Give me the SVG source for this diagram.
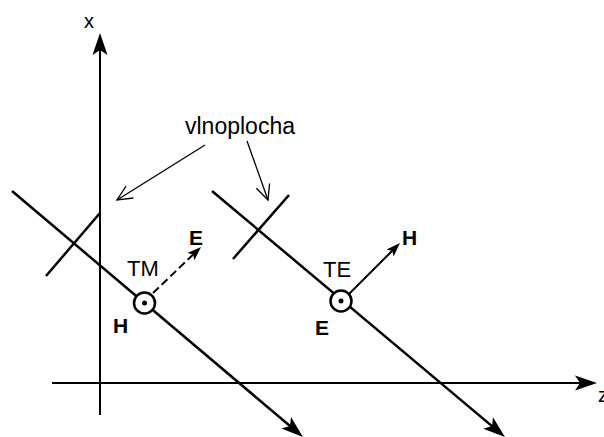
<svg xmlns="http://www.w3.org/2000/svg" width="604" height="437" viewBox="0 0 604 437">
<style>
.ax{stroke:#000;stroke-width:2;fill:none}
.thick{stroke:#000;stroke-width:2.5;fill:none}
.thin{stroke:#000;stroke-width:1.3;fill:none}
.vec{stroke:#000;stroke-width:2;fill:none}
.t{font-family:"Liberation Sans",Arial,sans-serif;font-size:22px;fill:#000}
.b{font-family:"Liberation Sans",Arial,sans-serif;font-size:21px;font-weight:bold;fill:#000}
.src{fill:#fff;stroke:#000;stroke-width:2.5}
</style>
<defs>
<marker id="big" markerUnits="userSpaceOnUse" orient="auto" refX="0" refY="0" markerWidth="30" markerHeight="20" overflow="visible">
<path d="M17,0 L-5,-7.5 L0,0 L-5,7.5 Z" fill="#000"/>
</marker>
<marker id="small" markerUnits="userSpaceOnUse" orient="auto" refX="0" refY="0" markerWidth="20" markerHeight="14" overflow="visible">
<path d="M11,0 L-3,-5 L0,0 L-3,5 Z" fill="#000"/>
</marker>
<marker id="open" markerUnits="userSpaceOnUse" orient="auto" refX="0" refY="0" markerWidth="20" markerHeight="16" overflow="visible">
<path d="M-15,-7 L0,0 L-15,7" fill="none" stroke="#000" stroke-width="1.3"/>
</marker>
</defs>
<g id="connectors">
<line class="ax" x1="100" y1="415" x2="100" y2="50" marker-end="url(#big)"/>
<line class="ax" x1="52" y1="383" x2="580" y2="383" marker-end="url(#big)"/>
<line class="thick" x1="12" y1="191" x2="290" y2="426" marker-end="url(#big)"/>
<line class="thick" x1="212" y1="191" x2="492" y2="426.1" marker-end="url(#big)"/>
<line class="thick" x1="46" y1="276" x2="100" y2="213"/>
<line class="thick" x1="233" y1="259" x2="289" y2="195"/>
<line class="vec" x1="153" y1="293" x2="193.1" y2="254.6" stroke-dasharray="8,4" marker-end="url(#small)"/>
<line class="vec" x1="349" y1="294" x2="392.2" y2="250.8" marker-end="url(#small)"/>
<line class="thin" x1="205" y1="145" x2="117" y2="200" marker-end="url(#open)"/>
<line class="thin" x1="247" y1="141" x2="268" y2="200" marker-end="url(#open)"/>
</g>
<g id="axis-x"><text class="t" x="84" y="28" style="font-size:20px">x</text></g>
<g id="axis-z"><text class="t" x="598" y="402" style="font-size:20px">z</text></g>
<g id="label-vlnoplocha"><text class="t" x="185" y="134" style="font-size:23px">vlnoplocha</text></g>
<g id="tm">
<circle class="src" cx="144.5" cy="303" r="10.5"/>
<circle cx="144.5" cy="303" r="2.5" fill="#000"/>
<text class="t" x="127" y="276">TM</text>
<text class="b" x="189" y="245">E</text>
<text class="b" x="113" y="333">H</text>
</g>
<g id="te">
<circle class="src" cx="341" cy="301" r="10.5"/>
<circle cx="341" cy="301" r="2.5" fill="#000"/>
<text class="t" x="323" y="277">TE</text>
<text class="b" x="402" y="245">H</text>
<text class="b" x="315" y="335">E</text>
</g>
</svg>
